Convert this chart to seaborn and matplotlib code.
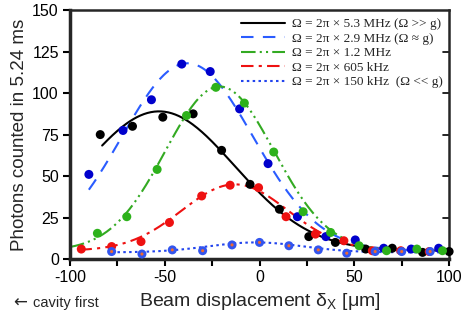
import numpy as np
import matplotlib
matplotlib.use("Agg")
import matplotlib.pyplot as plt
import seaborn as sns

x_53 = [-84, -67, -51, -35, -20, -5, 10.5, 26, 40, 56, 70, 86, 100]
y_53 = [75, 80, 85.5, 87.5, 65.5, 45, 30, 13.5, 10, 6, 6.5, 4, 4.5]

x_29 = [-90, -72, -57, -41, -26, -10.5, 4.5, 20, 35, 50.5, 65.5, 80, 94.5]
y_29 = [51, 77.5, 96, 117.5, 113, 90.5, 57.5, 25.5, 13.5, 11.5, 6.5, 6, 6.5]

x_12 = [-85.5, -70, -54, -38.5, -23, -8, 7.5, 23, 37.5, 52.5, 67, 83, 96.5]
y_12 = [15.5, 25.5, 54, 86.5, 103.5, 94, 64.5, 28.5, 16, 8, 5, 6, 5]

x_605 = [-94, -78, -62.5, -47.5, -30.5, -15.5, -0.5, 14, 29.5, 44.5, 59.5, 74.5, 89.5]
y_605 = [6, 7.5, 10.5, 22, 38, 44.5, 43, 25.5, 15, 11, 5, 5, 4.5]

x_150 = [-78, -62, -46, -30, -14.5, 0, 15.5, 31, 46, 61, 75, 90]
y_150 = [4.5, 3, 5.5, 5, 8.5, 10, 8, 5.5, 3.5, 4.5, 4.5, 4.5]

# gaussian fit curves as they appear: offset, amplitude, centre, width, x range
fit_53 = [5, 84, -53, 40, -83, 100]
fit_29 = [5, 113, -38, 34.7, -90, 100]
fit_12 = [5, 99, -21, 28.7, -100, 100]
fit_605 = [5, 40, -13, 28, -95, 100]
fit_150 = [4, 6, -2, 25, -78, 100]

labels = ["Ω = 2π × 5.3 MHz (Ω >> g)",
          "Ω = 2π × 2.9 MHz (Ω ≈ g)",
          "Ω = 2π × 1.2 MHz",
          "Ω = 2π × 605 kHz",
          "Ω = 2π × 150 kHz  (Ω << g)"]


def gauss(p):
    xx = np.linspace(p[4], p[5], 300)
    return xx, p[0] + p[1] * np.exp(-(xx - p[2]) ** 2 / (2 * p[3] ** 2))


sns.set_style("ticks")
plt.rcParams['font.family'] = ['Liberation Sans', 'DejaVu Sans']
plt.rcParams['mathtext.fontset'] = 'custom'
plt.rcParams['mathtext.rm'] = 'Liberation Sans'
plt.rcParams['mathtext.it'] = 'Liberation Sans'
plt.rcParams['axes.unicode_minus'] = False

fig = plt.figure(figsize=(4.63, 3.24), dpi=100)
ax = fig.add_axes([0.151, 0.2006, 0.819, 0.768])

styles = [
    (fit_53, "black", "-"),
    (fit_29, "#2a5cff", (0, (6, 4.5))),
    (fit_12, "#33aa22", (0, (7, 2, 1, 2, 1, 2))),
    (fit_605, "#ee1111", (0, (6, 2.5, 1.5, 2.5))),
    (fit_150, "#2244ee", (0, (1.2, 1.6))),
]
for (p, c, ls), lab in zip(styles, labels):
    xx, yy = gauss(p)
    sns.lineplot(x=xx, y=yy, color=c, linestyle=ls, lw=1.5, label=lab, ax=ax)

pts = [(x_53, y_53, "black"), (x_29, y_29, "#0000cc"), (x_12, y_12, "#2db21b"),
       (x_605, y_605, "#ee1111"), (x_150, y_150, "#3355ee")]
for xs, ys, c in pts:
    sns.scatterplot(x=xs, y=ys, color=c, s=42, edgecolor="none", legend=False,
                    ax=ax, clip_on=False, zorder=3)
sns.scatterplot(x=x_150, y=y_150, color="#f06a30", s=5, edgecolor="none",
                legend=False, ax=ax, clip_on=False, zorder=4)

ax.set_xlim(-100, 100)
ax.set_ylim(0, 150)
ax.set_xticks([-100, -50, 0, 50, 100])
ax.set_xticks([-75, -25, 25, 75], minor=True)
ax.set_yticks([0, 25, 50, 75, 100, 125, 150])
ax.tick_params(axis='both', which='both', direction='out', length=5, width=1.5,
               labelsize=11.5, colors='black', pad=3)
for sp in ['left', 'bottom']:
    ax.spines[sp].set_linewidth(2.5)
for sp in ['top', 'right']:
    ax.spines[sp].set_visible(True)
    ax.spines[sp].set_linewidth(1.8)
# inward marks on the right frame
for yt in [25, 50, 75, 100, 125]:
    ax.plot([0.985, 1.0], [yt, yt], transform=ax.get_yaxis_transform(),
            color='black', lw=1.2, clip_on=False)

ax.set_xlabel("Beam displacement δ$_\\mathrm{X}$ [μm]", fontsize=14, labelpad=4)
ax.set_ylabel("Photons counted in 5.24 ms", fontsize=13.5, labelpad=3)

ax.legend(loc='upper right', bbox_to_anchor=(1.0, 0.995), frameon=False,
          prop={'family': ['Liberation Serif', 'DejaVu Serif'], 'size': 9.5},
          handlelength=3.3, handletextpad=0.5, labelspacing=0.17,
          borderaxespad=0.2, borderpad=0.3)

fig.text(0.028, 0.065, "←", fontsize=12, va='center', ha='left',
         family=['DejaVu Sans'])
fig.text(0.071, 0.065, "cavity first", fontsize=10.5, va='center', ha='left')

fig.savefig("out.png", dpi=100)
